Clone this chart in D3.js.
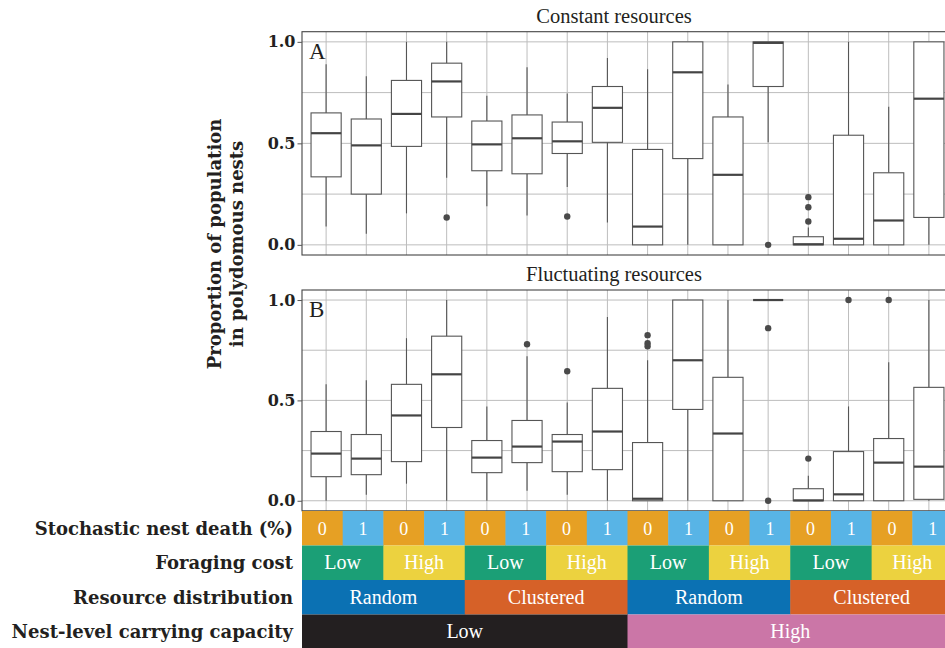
<!DOCTYPE html>
<html>
<head>
<meta charset="utf-8">
<script src="https://cdn.jsdelivr.net/npm/d3@7"></script>
<style>
  body { margin: 0; background: #fff; }
  .tick text { font-family: "DejaVu Serif", serif; font-weight: bold; font-size: 16px; fill: #231F20; }
</style>
</head>
<body>
<div id="chart"></div>
<script>
var svgWidth = 945;
var svgHeight = 648;

// factor levels, outermost first
var capacityLevels = ["Low", "High"];
var distributionLevels = ["Random", "Clustered"];
var costLevels = ["Low", "High"];
var deathLevels = ["0", "1"];

// Constant resources (panel A): one value per condition, 16 conditions
var constLo  = [0.09, 0.055, 0.155, 0.33, 0.19, 0.145, 0.285, 0.11, 0, 0, 0, 0.505, 0, 0, 0, 0];
var constQ1  = [0.335, 0.25, 0.485, 0.63, 0.365, 0.35, 0.45, 0.505, 0, 0.425, 0, 0.78, 0, 0, 0, 0.135];
var constMed = [0.55, 0.49, 0.645, 0.805, 0.495, 0.525, 0.51, 0.675, 0.09, 0.85, 0.345, 0.995, 0.003, 0.03, 0.12, 0.72];
var constQ3  = [0.65, 0.62, 0.81, 0.895, 0.61, 0.64, 0.605, 0.78, 0.47, 1.0, 0.63, 1.0, 0.04, 0.54, 0.355, 1.0];
var constHi  = [0.89, 0.83, 1.0, 1.0, 0.735, 0.875, 0.745, 0.92, 0.865, 1.0, 0.79, 1.0, 0.085, 1.0, 0.68, 1.0];
var constOut = [[], [], [], [0.135], [], [], [0.14], [], [], [], [], [0], [0.115, 0.185, 0.235], [], [], []];

// Fluctuating resources (panel B)
var flucLo  = [0, 0.03, 0.085, 0, 0, 0.05, 0.03, 0, 0, 0, 0, 1.0, 0, 0, 0, 0];
var flucQ1  = [0.12, 0.13, 0.195, 0.365, 0.14, 0.19, 0.145, 0.155, 0, 0.455, 0, 1.0, 0, 0, 0, 0.007];
var flucMed = [0.235, 0.21, 0.425, 0.63, 0.215, 0.27, 0.295, 0.345, 0.01, 0.70, 0.335, 1.0, 0.002, 0.032, 0.19, 0.17];
var flucQ3  = [0.345, 0.33, 0.58, 0.82, 0.30, 0.40, 0.33, 0.56, 0.29, 1.0, 0.615, 1.0, 0.06, 0.245, 0.31, 0.565];
var flucHi  = [0.58, 0.60, 0.81, 1.0, 0.47, 0.72, 0.49, 0.915, 0.70, 1.0, 1.0, 1.0, 0.125, 0.47, 0.69, 1.0];
var flucOut = [[], [], [], [], [], [0.78], [0.645], [], [0.77, 0.785, 0.825], [], [], [0.86, 0], [0.21], [1.0], [1.0], []];

var yTicks = [0, 0.5, 1.0];
var yGrid = [0, 0.25, 0.5, 0.75, 1.0];

// build the 16 conditions in plotting order
var conditions = [];
capacityLevels.forEach(function(cap) {
  distributionLevels.forEach(function(dist) {
    costLevels.forEach(function(cost) {
      deathLevels.forEach(function(death) {
        conditions.push({ cap: cap, dist: dist, cost: cost, death: death, i: conditions.length });
      });
    });
  });
});

function boxData(lo, q1, med, q3, hi, out) {
  return conditions.map(function(c, i) {
    return { i: i, lo: lo[i], q1: q1[i], med: med[i], q3: q3[i], hi: hi[i], out: out[i] };
  });
}

var panels = [
  { title: "Constant resources", letter: "A", top: 31.7, bottom: 255,
    boxes: boxData(constLo, constQ1, constMed, constQ3, constHi, constOut) },
  { title: "Fluctuating resources", letter: "B", top: 290, bottom: 510.8,
    boxes: boxData(flucLo, flucQ1, flucMed, flucQ3, flucHi, flucOut) }
];

var panelLeft = 302;
var panelRight = 953;

var svg = d3.select("#chart")
  .append("svg")
  .attr("width", svgWidth)
  .attr("height", svgHeight)
  .style("display", "block");

var xScale = d3.scalePoint()
  .domain(d3.range(conditions.length))
  .range([panelLeft, panelRight])
  .padding(0.6);

var boxWidth = xScale.step() * 0.75;

panels.forEach(function(p) {
  var yScale = d3.scaleLinear()
    .domain([-0.05, 1.05])
    .range([p.bottom, p.top]);

  var g = svg.append("g");

  // panel background + grid
  g.append("rect")
    .attr("x", panelLeft)
    .attr("y", p.top)
    .attr("width", panelRight - panelLeft)
    .attr("height", p.bottom - p.top)
    .attr("fill", "#fff");

  g.selectAll(".hgrid")
    .data(yGrid)
    .enter()
    .append("line")
    .attr("x1", panelLeft)
    .attr("x2", panelRight)
    .attr("y1", d => yScale(d))
    .attr("y2", d => yScale(d))
    .attr("stroke", "#bdbdbd")
    .attr("stroke-width", 1);

  g.selectAll(".vgrid")
    .data(conditions)
    .enter()
    .append("line")
    .attr("x1", d => xScale(d.i))
    .attr("x2", d => xScale(d.i))
    .attr("y1", p.top)
    .attr("y2", p.bottom)
    .attr("stroke", "#bdbdbd")
    .attr("stroke-width", 1);

  var box = g.selectAll(".box")
    .data(p.boxes)
    .enter()
    .append("g");

  // whiskers
  box.append("line")
    .attr("x1", d => xScale(d.i))
    .attr("x2", d => xScale(d.i))
    .attr("y1", d => yScale(d.hi))
    .attr("y2", d => yScale(d.q3))
    .attr("stroke", "#555")
    .attr("stroke-width", 1.1);

  box.append("line")
    .attr("x1", d => xScale(d.i))
    .attr("x2", d => xScale(d.i))
    .attr("y1", d => yScale(d.q1))
    .attr("y2", d => yScale(d.lo))
    .attr("stroke", "#555")
    .attr("stroke-width", 1.1);

  box.append("rect")
    .attr("x", d => xScale(d.i) - boxWidth / 2)
    .attr("y", d => yScale(d.q3))
    .attr("width", boxWidth)
    .attr("height", d => yScale(d.q1) - yScale(d.q3))
    .attr("fill", "#fff")
    .attr("stroke", "#555")
    .attr("stroke-width", 1.1);

  box.append("line")
    .attr("x1", d => xScale(d.i) - boxWidth / 2)
    .attr("x2", d => xScale(d.i) + boxWidth / 2)
    .attr("y1", d => yScale(d.med))
    .attr("y2", d => yScale(d.med))
    .attr("stroke", "#444")
    .attr("stroke-width", 2.2);

  box.selectAll("circle")
    .data(d => d.out.map(v => ({ i: d.i, v: v })))
    .enter()
    .append("circle")
    .attr("cx", d => xScale(d.i))
    .attr("cy", d => yScale(d.v))
    .attr("r", 3.2)
    .attr("fill", "#4a4a4a");

  // panel border
  g.append("rect")
    .attr("x", panelLeft)
    .attr("y", p.top)
    .attr("width", panelRight - panelLeft)
    .attr("height", p.bottom - p.top)
    .attr("fill", "none")
    .attr("stroke", "#444")
    .attr("stroke-width", 1.1);

  var yAxis = d3.axisLeft(yScale)
    .tickValues(yTicks)
    .tickFormat(d3.format(".1f"))
    .tickSize(4.5)
    .tickPadding(2);

  var axisG = g.append("g")
    .attr("transform", `translate(${panelLeft}, 0)`)
    .call(yAxis);
  axisG.select(".domain").remove();
  axisG.selectAll(".tick line").attr("stroke", "#555");

  g.append("text")
    .attr("x", 614)
    .attr("y", p.top - 9)
    .attr("text-anchor", "middle")
    .style("font-family", "Liberation Serif, serif")
    .style("font-size", "20.5px")
    .style("fill", "#231F20")
    .text(p.title);

  g.append("text")
    .attr("x", panelLeft + 7)
    .attr("y", p.top + 27)
    .style("font-family", "Liberation Serif, serif")
    .style("font-size", "23px")
    .style("fill", "#231F20")
    .text(p.letter);
});

// y axis title
var yTitle = svg.append("text")
  .attr("transform", "translate(221, 244) rotate(-90)")
  .attr("text-anchor", "middle")
  .style("font-family", "DejaVu Serif, serif")
  .style("font-weight", "bold")
  .style("font-size", "18px")
  .style("fill", "#231F20");

yTitle.append("tspan").attr("x", 0).attr("dy", 0).text("Proportion of population");
yTitle.append("tspan").attr("x", 0).attr("dy", 22).text("in polydomous nests");

// condition strips below the panels
var stripScale = d3.scaleBand()
  .domain(d3.range(conditions.length))
  .range([panelLeft, panelRight]);

var stripRows = [
  { label: "Stochastic nest death (%)", key: "death", span: 1, top: 511,
    colors: { "0": "#E6A024", "1": "#58B4E6" }, size: 18 },
  { label: "Foraging cost", key: "cost", span: 2, top: 545.5,
    colors: { "Low": "#1B9F76", "High": "#ECD23F" }, size: 20 },
  { label: "Resource distribution", key: "dist", span: 4, top: 580,
    colors: { "Random": "#0B71B3", "Clustered": "#D66128" }, size: 20 },
  { label: "Nest-level carrying capacity", key: "cap", span: 8, top: 614.5,
    colors: { "Low": "#231F20", "High": "#CB76A7" }, size: 20 }
];
var stripHeight = 34.5;

stripRows.forEach(function(row) {
  var cells = conditions.filter(c => c.i % row.span === 0);
  var rg = svg.append("g");

  rg.selectAll("rect")
    .data(cells)
    .enter()
    .append("rect")
    .attr("x", d => stripScale(d.i))
    .attr("y", row.top)
    .attr("width", stripScale.bandwidth() * row.span + 0.5)
    .attr("height", stripHeight)
    .attr("fill", d => row.colors[d[row.key]]);

  rg.selectAll("text")
    .data(cells)
    .enter()
    .append("text")
    .attr("x", d => stripScale(d.i) + stripScale.bandwidth() * row.span / 2)
    .attr("y", row.top + stripHeight / 2 + 6.5)
    .attr("text-anchor", "middle")
    .style("font-family", "Liberation Serif, serif")
    .style("font-size", row.size + "px")
    .style("fill", "#fff")
    .text(d => d[row.key]);

  rg.append("text")
    .attr("x", 293)
    .attr("y", row.top + stripHeight / 2 + 6.5)
    .attr("text-anchor", "end")
    .style("font-family", "DejaVu Serif, serif")
    .style("font-weight", "bold")
    .style("font-size", "18px")
    .style("fill", "#231F20")
    .text(row.label);
});
</script>
</body>
</html>
